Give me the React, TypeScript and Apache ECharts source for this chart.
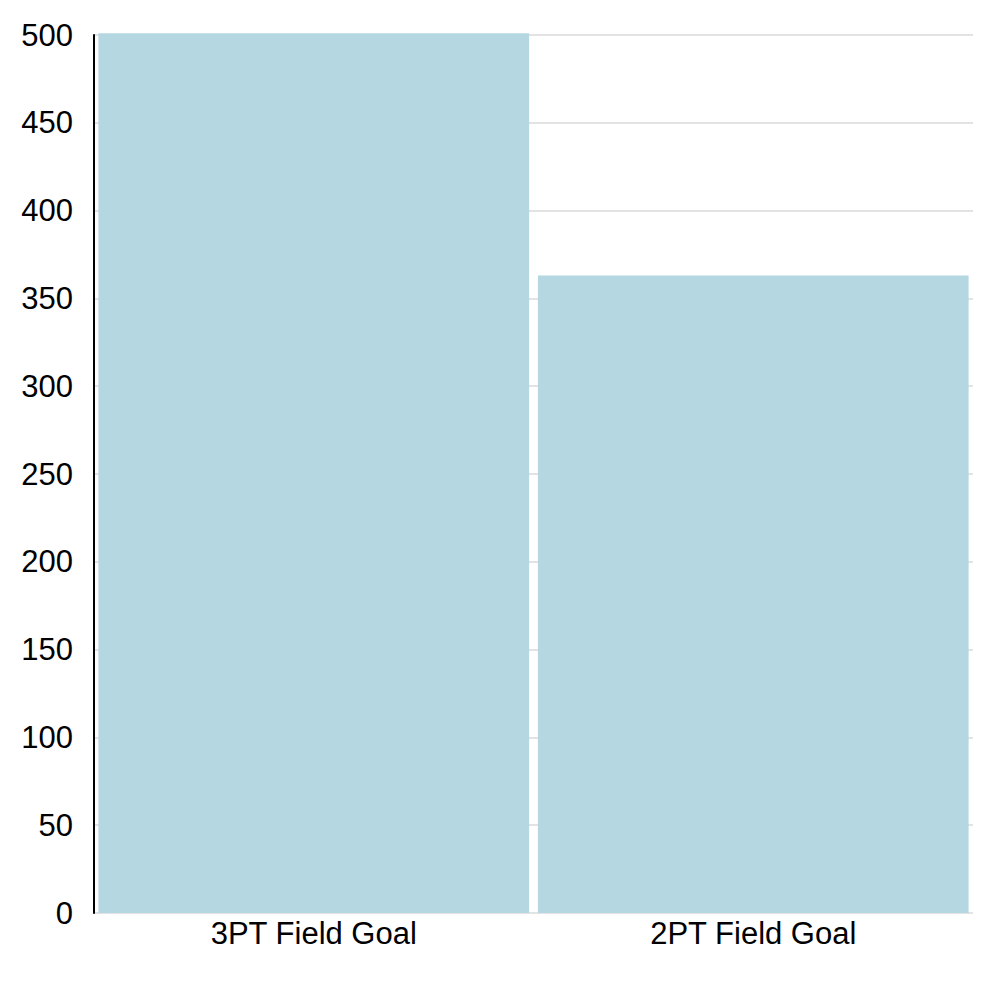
import React, { useEffect, useRef } from "react";
import * as echarts from "echarts";

const categories = ["3PT Field Goal", "2PT Field Goal"];
const values = [501, 363];
const yMin = 0;
const yMax = 500;
const yInterval = 50;

export default function App() {
  const ref = useRef<HTMLDivElement>(null);
  useEffect(() => {
    if (!ref.current) return;
    const chart = echarts.init(ref.current, null, { renderer: "svg" });
    chart.setOption({
      animation: false,
      grid: { left: 86, right: 23, top: 27, bottom: 67, containLabel: false },
      xAxis: {
        type: "category",
        data: categories,
        axisLine: { show: false },
        axisTick: { show: false },
        axisLabel: {
          color: "#000",
          fontSize: 31,
          fontFamily: "Liberation Sans, Arial, sans-serif",
          margin: 5,
        },
      },
      yAxis: {
        type: "value",
        min: yMin,
        max: yMax,
        interval: yInterval,
        axisLine: { show: true, lineStyle: { color: "#000", width: 2 } },
        axisTick: { show: false },
        splitLine: { show: true, lineStyle: { color: "#e3e3e3", width: 2 } },
        axisLabel: {
          color: "#000",
          fontSize: 31,
          fontFamily: "Liberation Sans, Arial, sans-serif",
          margin: 21,
        },
      },
      series: [
        {
          type: "bar",
          data: values,
          barCategoryGap: "2%",
          clip: false,
          itemStyle: { color: "#b5d7e2" },
        },
      ],
    });
    return () => chart.dispose();
  }, []);
  return <div ref={ref} style={{ width: 988, height: 972 }} />;
}
